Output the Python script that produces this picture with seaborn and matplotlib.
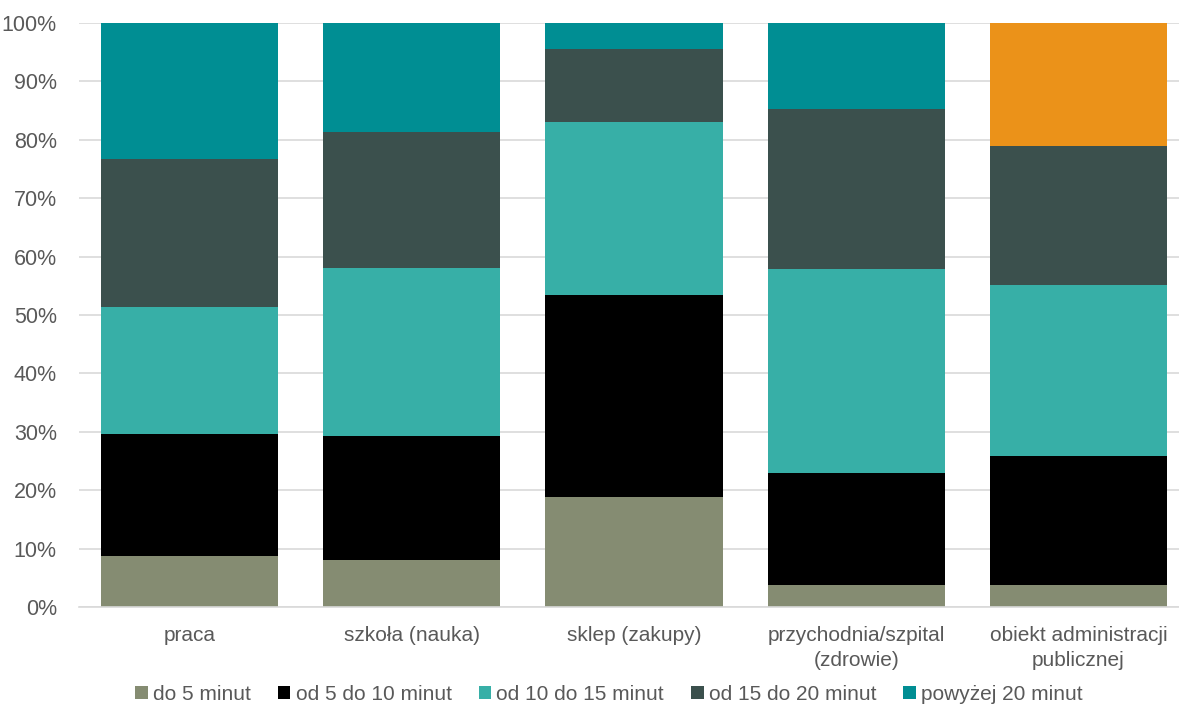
import matplotlib
matplotlib.use("Agg")
import matplotlib.pyplot as plt
from matplotlib.patches import Patch
from matplotlib.ticker import PercentFormatter
import numpy as np
import pandas as pd
import seaborn as sns

# Travel time to destination, share of responses (%)
categories = [
    "praca",
    "szkoła (nauka)",
    "sklep (zakupy)",
    "przychodnia/szpital\n(zdrowie)",
    "obiekt administracji\npublicznej",
]
series_names = [
    "do 5 minut",
    "od 5 do 10 minut",
    "od 10 do 15 minut",
    "od 15 do 20 minut",
    "powyżej 20 minut",
]
do_5 = [8.7, 8.0, 18.9, 3.8, 3.8]
od_5_do_10 = [21.0, 21.2, 34.5, 19.1, 22.1]
od_10_do_15 = [21.6, 28.8, 29.7, 34.9, 29.2]
od_15_do_20 = [25.4, 23.4, 12.4, 27.4, 23.9]
powyzej_20 = [23.3, 18.6, 4.5, 14.8, 21.0]

series_values = [do_5, od_5_do_10, od_10_do_15, od_15_do_20, powyzej_20]
series_colors = ["#858C72", "#000000", "#37AFA7", "#3B504D", "#008E93"]
highlight_color = "#EB9219"  # top segment of the last bar

sns.set_theme(style="white")
plt.rcParams["font.family"] = ["Liberation Sans Narrow", "Liberation Sans", "DejaVu Sans"]
text_color = "#595959"

fig = plt.figure(figsize=(11.79, 7.06), dpi=100)
ax = fig.add_axes([79 / 1179, 1 - 607 / 706, 1 - 79 / 1179, (607 - 23) / 706])

bottom = np.zeros(len(categories))
for name, vals, color in zip(series_names, series_values, series_colors):
    df = pd.DataFrame({"cat": categories, "val": vals})
    sns.barplot(data=df, x="cat", y="val", color=color, bottom=bottom,
                width=0.797, ax=ax, linewidth=0, saturation=1)
    bottom = bottom + np.array(vals)

# last stacked segment of the last category gets the accent colour
ax.patches[-1].set_facecolor(highlight_color)

ax.set_ylim(0, 100)
ax.set_xlim(-0.497, 4.452)
ax.set_yticks(np.arange(0, 101, 10))
ax.yaxis.set_major_formatter(PercentFormatter(decimals=0))
ax.yaxis.grid(True, color="#D9D9D9", linewidth=1.2)
ax.set_axisbelow(True)
for side in ["left", "right", "top"]:
    ax.spines[side].set_visible(False)
ax.spines["bottom"].set_color("#D9D9D9")
ax.spines["bottom"].set_linewidth(1.2)
ax.set_xlabel("")
ax.set_ylabel("")
ax.tick_params(axis="y", length=0, pad=16, labelsize=15.5, labelcolor=text_color)
ax.tick_params(axis="x", length=0, pad=14, labelsize=15, labelcolor=text_color)
for lbl in ax.get_xticklabels():
    lbl.set_multialignment("center")
    lbl.set_linespacing(1.35)

handles = [Patch(facecolor=c, edgecolor="none") for c in series_colors]
fig.legend(handles, series_names, loc="center", bbox_to_anchor=(609 / 1179, 1 - 694 / 706),
           ncol=5, frameon=False, fontsize=15, labelcolor=text_color,
           handlelength=0.6, handleheight=0.6, handletextpad=0.25,
           columnspacing=1.3, borderpad=0, borderaxespad=0)

fig.savefig("out.png", dpi=100)
